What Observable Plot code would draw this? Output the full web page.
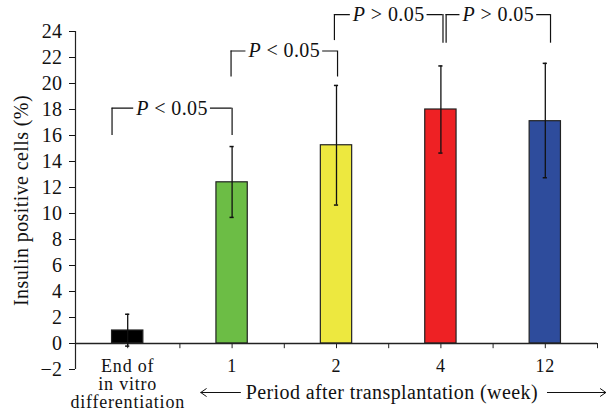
<!DOCTYPE html>
<html><head><meta charset="utf-8">
<script src="https://cdn.jsdelivr.net/npm/d3@7"></script>
<script src="https://cdn.jsdelivr.net/npm/@observablehq/plot@0.6"></script>
<style>body{margin:0;background:#fff} svg text{letter-spacing:0.4px} svg .cat text{letter-spacing:0.8px}</style>
</head><body><div id="chart"></div>
<script>
// Data
const categories = ["End of\nin vitro\ndifferentiation", "1", "2", "4", "12"];
const means   = [1.0, 12.4, 15.25, 18.0, 17.1];
const errLow  = [-0.2, 9.7, 10.65, 14.65, 12.75];
const errHigh = [2.25, 15.15, 19.85, 21.35, 21.55];
const colors  = ["#000000", "#6cbd45", "#ede83f", "#ee2124", "#2e4c9c"];
const yTicks  = [-2, 0, 2, 4, 6, 8, 10, 12, 14, 16, 18, 20, 22, 24];
const yLabel  = "Insulin positive cells (%)";
const periodLabel = "Period after transplantation (week)";

// Significance brackets
const bracketLabels = ["P < 0.05", "P < 0.05", "P > 0.05", "P > 0.05"];
const bracketX1     = [-0.15, 0.99, 1.98, 3.05];
const bracketX2     = [1.0, 2.01, 3.02, 4.05];
const bracketY      = [18.1, 22.5, 25.3, 25.3];
const bracketEndL   = [16.0, 20.5, 23.3, 23.1];
const bracketEndR   = [16.0, 20.5, 23.1, 23.1];

// Arrows flanking the period label (x in category units, y in value units)
const arrowFrom = [1.08, 4.02];
const arrowTo   = [0.70, 4.58];
const arrowY    = -3.77;
const periodX   = 2.53;

const bars = categories.map((c, i) => ({i, c, mean: means[i], lo: errLow[i], hi: errHigh[i], color: colors[i]}));
const brackets = bracketLabels.map((t, k) => ({t, x1: bracketX1[k], x2: bracketX2[k], y: bracketY[k], yl: bracketEndL[k], yr: bracketEndR[k]}));
const arrows = arrowFrom.map((x1, k) => ({x1, x2: arrowTo[k]}));
const halfBar = 0.15, capHalf = 0.02;
const xTicks = d3.range(-0.5, categories.length, 0.5);

const chart = Plot.plot({
  width: 606, height: 414,
  marginLeft: 75, marginRight: 9, marginTop: 31, marginBottom: 45,
  x: {domain: [-0.5, categories.length - 0.5], axis: null},
  y: {domain: [-2, 24], axis: null},
  color: {type: "identity"},
  style: {fontFamily: "'Liberation Serif', serif", fontSize: "20px", color: "#111", background: "white"},
  marks: [
    Plot.axisY({ticks: yTicks, tickSize: 6, tickPadding: 7, label: yLabel, labelAnchor: "center", labelArrow: "none", labelOffset: 62, fontSize: 20}),
    Plot.ruleX([-0.5], {y1: -2, y2: 24, stroke: "#222", strokeWidth: 1.2}),
    Plot.rect(bars, {x1: d => d.i - halfBar, x2: d => d.i + halfBar, y1: 0, y2: "mean", fill: "color", stroke: "#222", strokeWidth: 1.2}),
    Plot.ruleY([0], {stroke: "#222", strokeWidth: 1.5}),
    Plot.ruleX(xTicks, {x: d => d, y1: 0, y2: -0.4, stroke: "#222", strokeWidth: 1}),
    // error bars
    Plot.ruleX(bars, {x: "i", y1: "lo", y2: "hi", stroke: "#111", strokeWidth: 1.3}),
    Plot.ruleY(bars, {y: "hi", x1: d => d.i - capHalf, x2: d => d.i + capHalf, stroke: "#111", strokeWidth: 1.5}),
    Plot.ruleY(bars, {y: "lo", x1: d => d.i - capHalf, x2: d => d.i + capHalf, stroke: "#111", strokeWidth: 1.5}),
    // category labels
    Plot.text(bars, {x: "i", y: 0, text: "c", lineAnchor: "top", dy: 16.2, lineHeight: 1.0, fill: "#111", fontSize: 18, className: "cat"}),
    // period label with arrows
    Plot.text([periodLabel], {x: periodX, y: arrowY, text: d => d, fill: "#111", fontSize: 20}),
    Plot.arrow(arrows, {x1: "x1", x2: "x2", y1: arrowY, y2: arrowY, stroke: "#111", strokeWidth: 1, headLength: 10, headAngle: 70}),
    // brackets
    Plot.ruleY(brackets, {y: "y", x1: "x1", x2: "x2", stroke: "#111", strokeWidth: 1.2}),
    Plot.ruleX(brackets, {x: "x1", y1: "yl", y2: "y", stroke: "#111", strokeWidth: 1.2}),
    Plot.ruleX(brackets, {x: "x2", y1: "yr", y2: "y", stroke: "#111", strokeWidth: 1.2}),
    Plot.text(brackets, {x: d => (d.x1 + d.x2) / 2, y: "y", text: "t", fill: "#111", fontSize: 20})
  ]
});

document.getElementById("chart").append(chart);

// italicize the "P" of each p-value label and give it a white backing so the bracket line breaks around it
const SVGNS = "http://www.w3.org/2000/svg";
chart.querySelectorAll("text").forEach(t => {
  const m = /^P( [<>] .*)$/.exec(t.textContent);
  if (m && t.childElementCount === 0) {
    t.textContent = "";
    t.setAttribute("style", "white-space:pre");
    const a = document.createElementNS(SVGNS, "tspan");
    a.setAttribute("font-style", "italic");
    a.textContent = "P";
    const b = document.createElementNS(SVGNS, "tspan");
    b.textContent = m[1];
    t.append(a, b);
    const bb = t.getBBox();
    const r = document.createElementNS(SVGNS, "rect");
    r.setAttribute("x", bb.x - 2);
    r.setAttribute("y", bb.y);
    r.setAttribute("width", bb.width + 4);
    r.setAttribute("height", bb.height);
    r.setAttribute("fill", "white");
    r.setAttribute("stroke", "none");
    if (t.getAttribute("transform")) r.setAttribute("transform", t.getAttribute("transform"));
    t.parentNode.insertBefore(r, t);
  }
});
</script>
</body></html>
